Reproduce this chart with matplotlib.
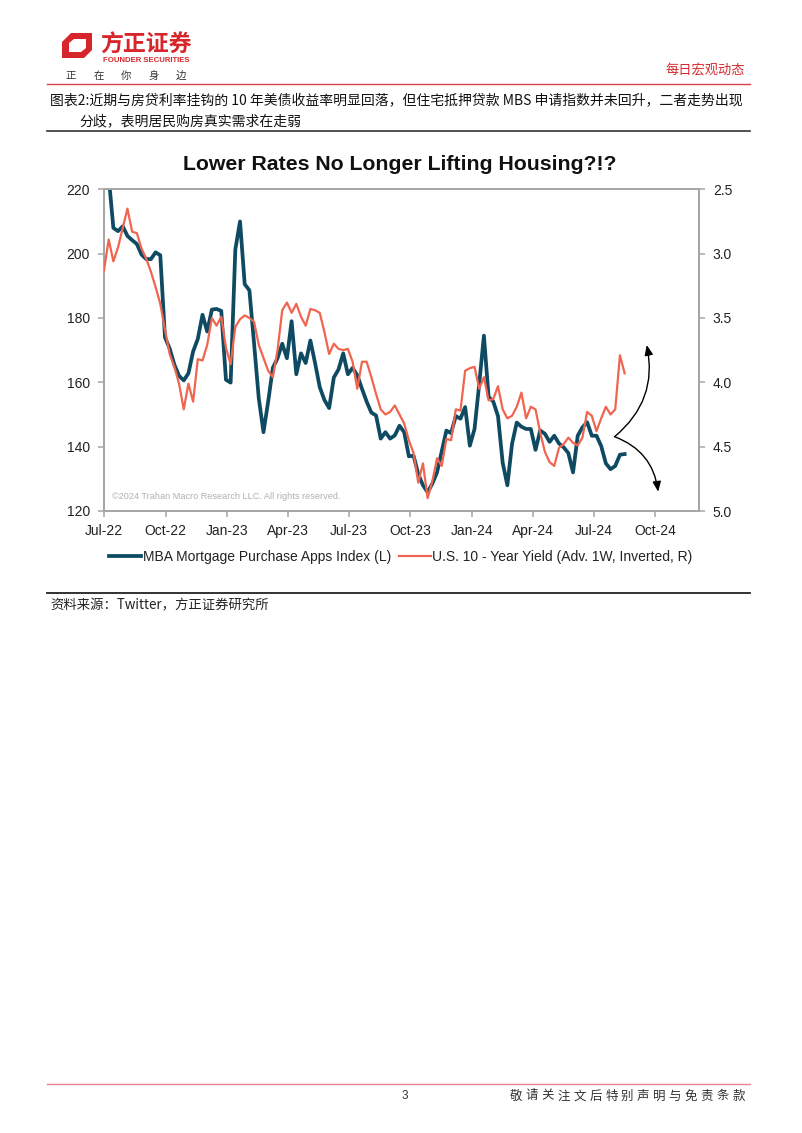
import matplotlib
matplotlib.use("Agg")
import matplotlib.pyplot as plt
import matplotlib.dates as mdates
from matplotlib.patches import Polygon
from matplotlib.lines import Line2D
import pandas as pd
import numpy as np

# ---------------- data ----------------
start_date = "2022-07-01"
mba_index = [230, 224, 208, 207, 208.5, 205.5, 204.2, 203, 199.7, 198.3,
             198.3, 200.4, 199.5, 174, 170.5, 165.5, 162, 160.6, 162.8, 169.6,
             173.5, 181, 175.8, 182.6, 182.8, 182.2, 160.8, 159.9, 201.3, 210,
             190.5, 188.6, 172, 155, 144.5, 154, 164.5, 167.5, 172, 167.5,
             179, 162.5, 169, 166, 173, 166, 158.5, 154.5, 152, 161.5,
             164, 169, 162.5, 164.5, 162.2, 158, 154, 150.6, 149.7, 142.5,
             144.5, 142.5, 143.5, 146.5, 144.5, 137, 137.2, 131.5, 128, 125.8,
             128.5, 132, 138.5, 145, 144.2, 149.5, 148.7, 152.3, 140.3, 145.5,
             159.5, 174.5, 155.5, 154, 149.5, 135, 128, 140.9, 147.5, 146.2,
             145.5, 145.5, 139, 145, 144, 141.5, 143.4, 141, 139.8, 138,
             132, 143.4, 146, 147.6, 143.4, 143.4, 140.2, 134.8, 133, 134,
             137.5, 137.7]
ust10y = [3.13, 2.89, 3.06, 2.95, 2.80, 2.65, 2.83, 2.84, 2.96, 3.04,
          3.14, 3.26, 3.39, 3.59, 3.78, 3.88, 4.01, 4.21, 4.01, 4.15,
          3.82, 3.83, 3.71, 3.50, 3.56, 3.49, 3.73, 3.86, 3.57, 3.51,
          3.48, 3.50, 3.53, 3.71, 3.81, 3.91, 3.96, 3.75, 3.44, 3.38,
          3.46, 3.39, 3.49, 3.56, 3.43, 3.44, 3.46, 3.61, 3.78, 3.70,
          3.74, 3.75, 3.74, 3.84, 4.05, 3.84, 3.84, 3.96, 4.09, 4.21,
          4.25, 4.23, 4.18, 4.25, 4.32, 4.45, 4.55, 4.78, 4.63, 4.90,
          4.77, 4.59, 4.65, 4.44, 4.45, 4.21, 4.22, 3.91, 3.89, 3.88,
          4.05, 3.96, 4.14, 4.13, 4.03, 4.21, 4.28, 4.26, 4.19, 4.08,
          4.28, 4.19, 4.21, 4.39, 4.54, 4.62, 4.65, 4.51, 4.48, 4.43,
          4.47, 4.49, 4.43, 4.23, 4.26, 4.38, 4.28, 4.19, 4.25, 4.21,
          3.79, 3.93]
dates = pd.date_range(start_date, periods=len(mba_index), freq="7D")

left_ticks = [120, 140, 160, 180, 200, 220]
right_ticks = [2.5, 3.0, 3.5, 4.0, 4.5, 5.0]
series_names = ["MBA Mortgage Purchase Apps Index (L)",
                "U.S. 10 - Year Yield (Adv. 1W, Inverted, R)"]

# ---------------- figure ----------------
W, H = 802, 1133
fig = plt.figure(figsize=(W / 100, H / 100), dpi=100)
fig.patch.set_facecolor("white")

def fx(x):
    return x / W

def fy(y):
    return 1 - y / H

CJK = ["Noto Sans CJK SC", "DejaVu Sans"]
LAT = ["Liberation Sans", "DejaVu Sans"]

# header logo
logo_outer = [(62, 58), (62, 42), (71, 33), (92, 33), (92, 50), (84, 58)]
logo_inner = [(69, 52), (69, 43), (74, 39), (86, 39), (86, 48), (81, 52)]
fig.patches.append(Polygon([(fx(a), fy(b)) for a, b in logo_outer], closed=True,
                           transform=fig.transFigure, facecolor="#D7262B", edgecolor="none"))
fig.patches.append(Polygon([(fx(a), fy(b)) for a, b in logo_inner], closed=True,
                           transform=fig.transFigure, facecolor="white", edgecolor="none"))
fig.patches.append(Polygon([(fx(a), fy(b)) for a, b in [(62, 58), (69, 52), (76, 52), (76, 58)]],
                           closed=True, transform=fig.transFigure, facecolor="#D7262B",
                           edgecolor="none"))
fig.text(fx(100), fy(45), "方正证券", family=CJK, fontsize=16.5, fontweight="bold",
         color="#D7262B", va="center", ha="left")
fig.text(fx(103), fy(60), "FOUNDER SECURITIES", family=LAT, fontsize=5.6,
         fontweight="bold", color="#D7262B", va="center", ha="left")
for i, ch in enumerate("正在你身边"):
    fig.text(fx(71 + i * 27.5), fy(76), ch, family=CJK, fontsize=7.5,
             color="#333333", va="center", ha="center")
fig.text(fx(745), fy(70), "每日宏观动态", family=CJK, fontsize=9.5, color="#D7262B",
         va="center", ha="right")
fig.add_artist(Line2D([fx(47), fx(750)], [fy(84), fy(84)], color="#D9414A", lw=1.0))

# caption
fig.text(fx(50), fy(100), "图表2:近期与房贷利率挂钩的 10 年美债收益率明显回落，但住宅抵押贷款 MBS 申请指数并未回升，二者走势出现",
         family=CJK, fontsize=10.0, color="#111111", va="center", ha="left")
fig.text(fx(79), fy(121), "分歧，表明居民购房真实需求在走弱",
         family=CJK, fontsize=10.0, color="#111111", va="center", ha="left")
fig.add_artist(Line2D([fx(47), fx(750)], [fy(131), fy(131)], color="#333333", lw=1.2))

# chart title
fig.text(fx(400), fy(165), "Lower Rates No Longer Lifting Housing?!?", family=LAT,
         fontsize=15.3, fontweight="bold", color="#111111", va="center", ha="center")

# axes
ax = fig.add_axes([fx(104), fy(511), (699 - 104) / W, (511 - 189.3) / H])
ax.plot(dates, mba_index, color="#0E4A62", lw=2.7, solid_joinstyle="round",
        label=series_names[0], zorder=2)
ax.set_ylim(120, 220)
ax.set_yticks(left_ticks)
ax.set_xlim(pd.Timestamp("2022-07-01"), pd.Timestamp("2024-12-05"))
ax.xaxis.set_major_locator(mdates.MonthLocator(bymonth=[1, 4, 7, 10]))
ax.xaxis.set_major_formatter(mdates.DateFormatter("%b-%y"))

ax2 = ax.twinx()
ax2.plot(dates, ust10y, color="#F0654F", lw=1.6, solid_joinstyle="round",
         label=series_names[1], zorder=3)
ax2.set_ylim(5.0, 2.5)
ax2.set_yticks(right_ticks)
ax2.set_yticklabels([f"{v:.1f}" for v in right_ticks])

for a in (ax, ax2):
    for s in a.spines.values():
        s.set_color("#A6A6A6")
        s.set_linewidth(1.3)
    a.tick_params(axis="both", colors="#A6A6A6", length=4, width=1.1, labelcolor="#222222",
                  labelsize=10)
    for lab in a.get_xticklabels() + a.get_yticklabels():
        lab.set_family(LAT)
ax.tick_params(axis="y", pad=6)
ax2.tick_params(axis="y", pad=6)
ax.tick_params(axis="x", pad=5)

ax.text(0.013, 0.045, "©2024 Trahan Macro Research LLC. All rights reserved.",
        transform=ax.transAxes, family=LAT, fontsize=6.6, color="#B0B0B0",
        ha="left", va="center")

# arrows
x0 = mdates.date2num(pd.Timestamp("2024-08-01"))
ax.annotate("", xy=(mdates.date2num(pd.Timestamp("2024-09-18")), 171.6), xytext=(x0, 143.1),
            arrowprops=dict(arrowstyle="-|>,head_length=0.6,head_width=0.25", color="black",
                            lw=1.0, connectionstyle="arc3,rad=0.3", shrinkA=0, shrinkB=0),
            zorder=5)
ax.annotate("", xy=(mdates.date2num(pd.Timestamp("2024-10-05")), 126.0), xytext=(x0, 143.1),
            arrowprops=dict(arrowstyle="-|>,head_length=0.6,head_width=0.25", color="black",
                            lw=1.0, connectionstyle="arc3,rad=-0.3", shrinkA=0, shrinkB=0),
            zorder=5)

# legend
handles = [Line2D([], [], color="#0E4A62", lw=2.7), Line2D([], [], color="#F0654F", lw=1.6)]
leg = fig.legend(handles, series_names, loc="center", bbox_to_anchor=(fx(401), fy(557)),
                 ncol=2, frameon=False, prop={"family": LAT, "size": 10},
                 handlelength=2.3, handletextpad=0.1, columnspacing=0.6)
for t in leg.get_texts():
    t.set_color("#222222")

# source
fig.add_artist(Line2D([fx(47), fx(750)], [fy(593), fy(593)], color="#222222", lw=1.3))
fig.text(fx(50), fy(605), "资料来源：Twitter，方正证券研究所", family=CJK, fontsize=9.6,
         style="italic", color="#222222", va="center", ha="left")

# footer
fig.add_artist(Line2D([fx(47), fx(750)], [fy(1084), fy(1084)], color="#E7838F", lw=1.0))
fig.text(fx(405), fy(1096), "3", family=LAT, fontsize=8.5, color="#333333",
         va="center", ha="center")
for i, ch in enumerate("敬请关注文后特别声明与免责条款"):
    fig.text(fx(516 + i * 15.9), fy(1096), ch, family=CJK, fontsize=9,
             color="#333333", va="center", ha="center")

fig.savefig("out.png", dpi=100, facecolor="white")
